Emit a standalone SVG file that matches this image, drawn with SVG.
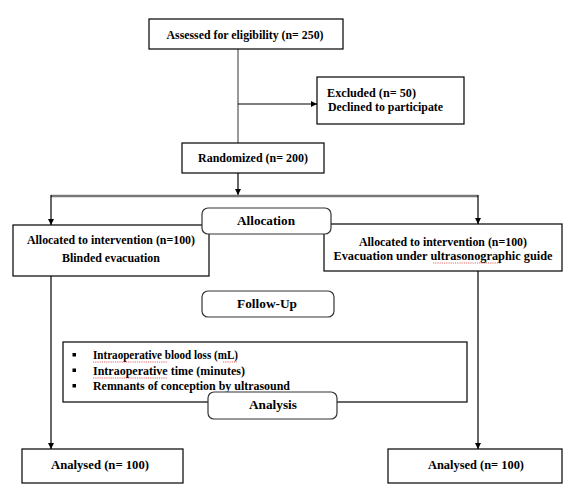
<svg xmlns="http://www.w3.org/2000/svg" width="577" height="501" viewBox="0 0 577 501">
<style>
.box{fill:#fff;stroke:#000;stroke-width:1.2}
.rbox{fill:#fff;stroke:#333;stroke-width:1.2}
.t{font-family:"Liberation Serif","Times New Roman",serif;font-weight:bold;font-size:13.5px;fill:#000}
.m{text-anchor:middle}
.ln{fill:none;stroke:#000;stroke-width:1.2}
.gl{fill:none;stroke:#777;stroke-width:1.5}
.sq{fill:none;stroke:#d22;stroke-width:0.7;stroke-dasharray:1.2 1}
</style>
<defs>
<marker id="ah" viewBox="0 0 8 8" refX="8" refY="4" markerWidth="6" markerHeight="6" markerUnits="userSpaceOnUse" orient="auto">
<path d="M0,0 L8,4 L0,8 z" fill="#000"/>
</marker>
</defs>
<rect width="577" height="501" fill="#fff"/>
<g id="connectors">
<line class="gl" x1="238" y1="49" x2="238" y2="143"/>
<line class="ln" x1="238" y1="104" x2="317" y2="104" marker-end="url(#ah)"/>
<line class="ln" x1="238" y1="173" x2="238" y2="195" marker-end="url(#ah)"/>
<line x1="51" y1="196" x2="478" y2="196" stroke="#777" stroke-width="2.5"/>
<line class="ln" x1="51" y1="195" x2="51" y2="225" marker-end="url(#ah)"/>
<line class="ln" x1="478" y1="195" x2="478" y2="224" marker-end="url(#ah)"/>
<line class="ln" x1="51" y1="276" x2="51" y2="449" marker-end="url(#ah)"/>
<line class="ln" x1="478" y1="271" x2="478" y2="449" marker-end="url(#ah)"/>
</g>
<g id="assessed">
<rect class="box" x="149" y="19" width="194" height="30"/>
<text class="t m" x="245" y="39" textLength="157" lengthAdjust="spacingAndGlyphs">Assessed for eligibility (n= 250)</text>
</g>
<g id="excluded">
<rect class="box" x="317" y="77" width="147" height="47"/>
<text class="t" x="327" y="97" textLength="89" lengthAdjust="spacingAndGlyphs">Excluded (n= 50)</text>
<text class="t" x="328" y="111" textLength="115" lengthAdjust="spacingAndGlyphs">Declined to participate</text>
</g>
<g id="randomized">
<rect class="box" x="182" y="143" width="142" height="30"/>
<text class="t m" x="253" y="162" textLength="110" lengthAdjust="spacingAndGlyphs">Randomized (n= 200)</text>
</g>
<g id="left-alloc">
<rect class="box" x="13" y="225" width="196" height="51"/>
<text class="t m" x="111" y="244" textLength="168" lengthAdjust="spacingAndGlyphs">Allocated to intervention (n=100)</text>
<text class="t m" x="111" y="262" textLength="98" lengthAdjust="spacingAndGlyphs">Blinded evacuation</text>
</g>
<g id="right-alloc">
<rect class="box" x="324" y="224" width="238" height="47"/>
<text class="t m" x="443" y="246" textLength="168" lengthAdjust="spacingAndGlyphs">Allocated to intervention (n=100)</text>
<text class="t m" x="443" y="260" textLength="219" lengthAdjust="spacingAndGlyphs">Evacuation under ultrasonographic guide</text>
<path class="sq" d="M433,263 L500,263"/>
</g>
<g id="allocation">
<rect class="rbox" x="202" y="208" width="129" height="26" rx="6"/>
<text class="t m" x="266" y="225" textLength="58" lengthAdjust="spacingAndGlyphs">Allocation</text>
</g>
<g id="followup">
<rect class="rbox" x="202" y="291" width="132" height="26" rx="6"/>
<text class="t m" x="267" y="308" textLength="60" lengthAdjust="spacingAndGlyphs">Follow-Up</text>
</g>
<g id="outcomes">
<rect class="box" x="63" y="342" width="404" height="60"/>
<rect x="72.5" y="353" width="3.5" height="3.5" fill="#000"/>
<rect x="72.5" y="368.5" width="3.5" height="3.5" fill="#000"/>
<rect x="72.5" y="384" width="3.5" height="3.5" fill="#000"/>
<text class="t" x="93" y="359" textLength="145" lengthAdjust="spacingAndGlyphs">Intraoperative blood loss (mL)</text>
<text class="t" x="93" y="375" textLength="152" lengthAdjust="spacingAndGlyphs">Intraoperative time (minutes)</text>
<text class="t" x="93" y="390" textLength="197" lengthAdjust="spacingAndGlyphs">Remnants of conception by ultrasound</text>
<path class="sq" d="M93,362 L167,362 M223,362 L237,362 M93,378 L167,378"/>
</g>
<g id="analysis">
<rect class="rbox" x="208" y="392" width="129" height="27" rx="6"/>
<text class="t m" x="273" y="409" textLength="48" lengthAdjust="spacingAndGlyphs">Analysis</text>
</g>
<g id="analysed-left">
<rect class="box" x="22" y="449" width="161" height="34"/>
<text class="t m" x="100" y="469" textLength="98" lengthAdjust="spacingAndGlyphs">Analysed (n= 100)</text>
</g>
<g id="analysed-right">
<rect class="box" x="388" y="449" width="174" height="34"/>
<text class="t m" x="476" y="469" textLength="96" lengthAdjust="spacingAndGlyphs">Analysed (n= 100)</text>
</g>
</svg>
